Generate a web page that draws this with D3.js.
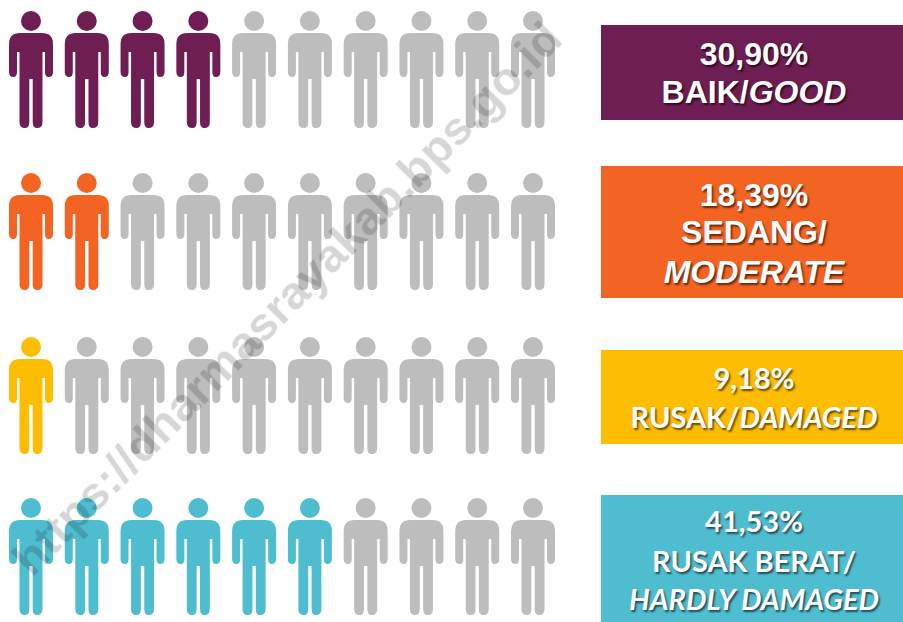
<!DOCTYPE html>
<html><head><meta charset="utf-8">
<script src="https://cdn.jsdelivr.net/npm/d3@7/dist/d3.min.js"></script>
<style>html,body{margin:0;padding:0;background:#fff}svg{display:block}</style>
</head><body><svg id="c" width="903" height="622"></svg>
<script>
const categories = ["baik","sedang","rusak","rusakBerat"];
const percentages = ["30,90%","18,39%","9,18%","41,53%"];
const filledIcons = [4,2,1,6];
const iconsPerRow = d3.range(10);
const colours = ["#6e1e52","#f36322","#fdbd00","#4fbdd0"];
const labelIndonesian = [["BAIK/"],["SEDANG/"],["RUSAK/"],["RUSAK BERAT/"]];
const labelEnglish = ["GOOD","MODERATE","DAMAGED","HARDLY DAMAGED"];
const watermark = "https://dharmasrayakab.bps.go.id";

const svg = d3.select("#c");
const x = d3.scalePoint().domain(iconsPerRow).range([31,533]);
const rowY = d3.scaleOrdinal().domain(categories).range([21,183,347,508]);
const boxTop = d3.scaleOrdinal().domain(categories).range([25,166,350,495]);
const boxBot = d3.scaleOrdinal().domain(categories).range([120,298,444,622]);
const fonts = d3.scaleOrdinal().domain(categories).range(["'Liberation Sans'","'Liberation Sans'","Lato","Lato"]);
const baselines = d3.scaleOrdinal().domain(categories).range([[65,103],[206,243,283],[389,428],[532,572,610]]);
const sizes = d3.scaleOrdinal().domain(categories).range([32,32,29,29]);

const personBody = "M-22,23 Q-22,12 -11,12 L11,12 Q22,12 22,23 L22,51 Q22,56 17.5,56 Q14,56 14,51 L14,31 L11.5,31 L11.5,101 Q11.5,107 6,107 Q1.7,107 1.7,101 L1.7,58 L-1.7,58 L-1.7,101 Q-1.7,107 -6,107 Q-11.5,107 -11.5,101 L-11.5,31 L-14,31 L-14,51 Q-14,56 -17.5,56 Q-22,56 -22,51 Z";

const g = svg.append("g").style("filter","blur(0.6px)");
categories.forEach((c,i)=>{
  const row = g.append("g").attr("transform",`translate(0,${rowY(c)})`);
  const p = row.selectAll("g").data(iconsPerRow).join("g")
    .attr("transform",d=>`translate(${x(d)},0)`)
    .attr("fill",d=>d<filledIcons[i]?colours[i]:"#bdbdbd");
  p.append("circle").attr("r",10);
  p.append("path").attr("d",personBody);

  g.append("rect").attr("x",601).attr("width",302)
    .attr("y",boxTop(c)).attr("height",boxBot(c)-boxTop(c)).attr("fill",colours[i]);

  const base = baselines(c);
  const lines = [{t:[[percentages[i],false]]}];
  if(base.length===2) lines.push({t:[[labelIndonesian[i][0],false],[labelEnglish[i],true]]});
  else { lines.push({t:[[labelIndonesian[i][0],false]]}); lines.push({t:[[labelEnglish[i],true]]}); }
  lines.forEach((l,k)=>{
    const t = g.append("text").attr("x",754).attr("y",base[k]).attr("text-anchor","middle")
      .attr("font-family",fonts(c)).attr("font-weight",700).attr("font-size",sizes(c))
      .attr("fill","#fff").style("text-shadow","1.5px 1.5px 2px rgba(0,0,0,.6)");
    l.t.forEach(s=>t.append("tspan").text(s[0]).attr("font-style",s[1]?"italic":"normal"));
  });
});

svg.append("text").attr("transform","translate(32,578) rotate(-45.2)")
  .attr("font-family","'Liberation Sans'").attr("font-weight",700).attr("font-size",47)
  .attr("textLength",756).attr("lengthAdjust","spacing")
  .attr("fill","#000").attr("fill-opacity",.16).text(watermark);
</script></body></html>
